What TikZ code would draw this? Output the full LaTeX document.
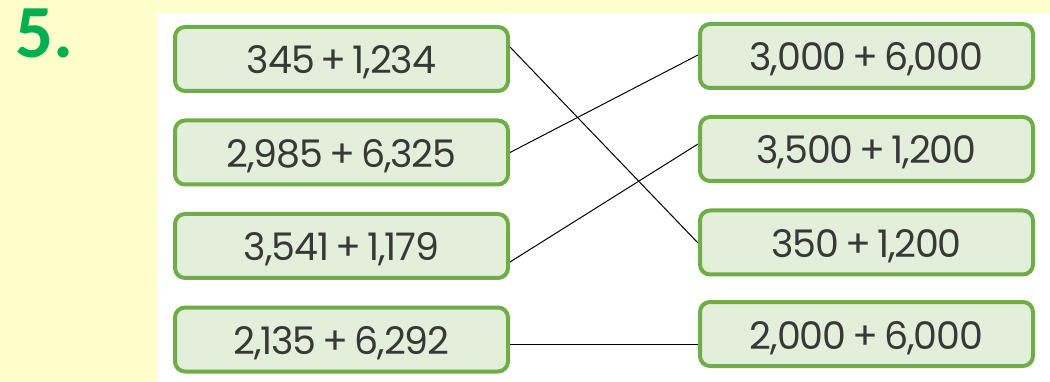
\documentclass[tikz,border=0pt]{standalone}
\usepackage{fontspec}
\setmainfont{Poppins}
\newfontfamily\boxfont[LetterSpace=-3]{Poppins}
\newfontfamily\numfont{Carlito}
\newcommand\setboxfont{\boxfont\fontsize{38}{40}\selectfont\fontdimen2\font=6pt\relax}
\usetikzlibrary{calc}
\definecolor{bgyellow}{HTML}{FFFFCC}
\definecolor{boxgreen}{HTML}{70AD47}
\definecolor{boxfill}{HTML}{E2EFDA}
\definecolor{txtgray}{HTML}{383838}
\definecolor{numgreen}{HTML}{00B050}
\tikzset{
  sumbox/.style={draw=boxgreen, fill=boxfill, line width=4pt, rounded corners=10pt,
    minimum width=333pt, minimum height=64pt, inner sep=0pt, text=txtgray,
    text height=31pt, text depth=1pt, font=\setboxfont},
  link/.style={draw=black, line width=1pt}
}
\begin{document}
\begin{tikzpicture}[x=1pt,y=-1pt]
\fill[bgyellow] (0,0) rectangle (1050,382);
\fill[white] (157,13) rectangle (1050,382);
\useasboundingbox (0,0) rectangle (1050,382);
\node[text=numgreen, font=\numfont\bfseries\fontsize{75}{75}\selectfont, anchor=base west, inner sep=0pt] (num) at (15,58) {5.};
\node[sumbox] (L1) at (341.5,59) {345 + 1,234};
\node[sumbox] (L2) at (341.5,152.5) {2,985 + 6,325};
\node[sumbox] (L3) at (341.5,246) {3,541 + 1,179};
\node[sumbox] (L4) at (341.5,339.5) {2,135 + 6,292};
\node[sumbox] (R1) at (866.5,56) {3,000 + 6,000};
\node[sumbox] (R2) at (866.5,149) {3,500 + 1,200};
\node[sumbox] (R3) at (866.5,242.5) {350 + 1,200};
\node[sumbox] (R4) at (866.5,334) {2,000 + 6,000};
\draw[link] ($(L1.east)+(0,-12)$) -- ($(R3.west)+(0,0.5)$);
\draw[link] (L2.east) -- ($(R1.west)+(0,-1)$);
\draw[link] ($(L3.east)+(0,16)$) -- ($(R2.west)+(0,-5)$);
\draw[link] ($(L4.east)+(0,4.5)$) -- ($(R4.west)+(0,10)$);
\end{tikzpicture}
\end{document}
